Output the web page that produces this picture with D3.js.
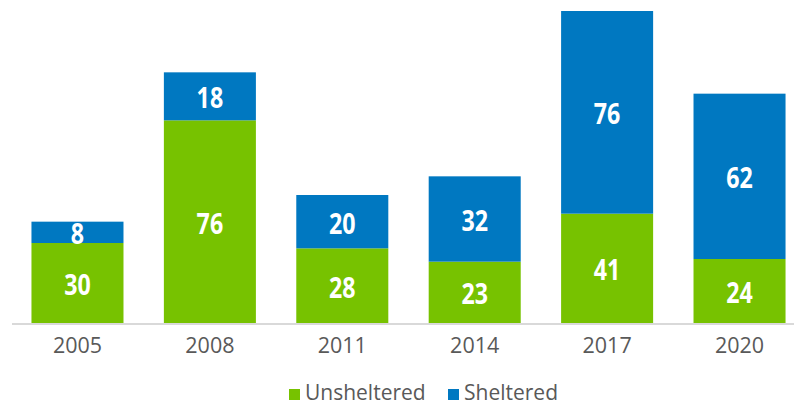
<!DOCTYPE html>
<html><head><meta charset="utf-8">
<script src="https://cdn.jsdelivr.net/npm/d3@7"></script>
<style>body{margin:0;background:#fff}svg{display:block}</style>
</head><body><svg id="c" width="794" height="405"></svg>
<script>
const years = ["2005","2008","2011","2014","2017","2020"];
const unsheltered = [30,76,28,23,41,24];
const sheltered = [8,18,20,32,76,62];
const seriesNames = ["Unsheltered","Sheltered"];
const colors = ["#77c200","#0078c1"];

const svg = d3.select("#c");
const x = d3.scaleBand().domain(years).range([12,805]).paddingInner(0.305).paddingOuter(0.147);
const y = d3.scaleLinear().domain([0,120]).range([323,3]);

const rows = years.map((yr,i)=>({year:yr, Unsheltered:unsheltered[i], Sheltered:sheltered[i]}));
const stack = d3.stack().keys(seriesNames)(rows);

stack.forEach((layer,li)=>{
  const g = svg.append("g");
  g.selectAll("rect").data(layer).join("rect")
    .attr("x",d=>x(d.data.year)).attr("width",x.bandwidth())
    .attr("y",d=>y(d[1])).attr("height",d=>y(d[0])-y(d[1]))
    .attr("fill",colors[li]);
  g.selectAll("text").data(layer).join("text")
    .attr("transform",d=>`translate(${x(d.data.year)+x.bandwidth()/2},${(y(d[0])+y(d[1]))/2+1}) scale(0.8,1)`)
    .attr("text-anchor","middle").attr("dominant-baseline","central")
    .style("font-family","'Open Sans',sans-serif").style("font-weight","bold").style("font-size","29px")
    .attr("fill","#fff")
    .text(d=>d[1]-d[0]);
});

// axis
const axis = svg.append("g").attr("transform","translate(0,324)")
  .call(d3.axisBottom(x).tickSize(0).tickPadding(14));
axis.select(".domain").attr("d","M12,0H794").attr("stroke","#d9d9d9").attr("stroke-width",2);
axis.selectAll("text").style("font-family","'Open Sans',sans-serif").style("font-size","21.5px").attr("fill","#595959");

// legend
const leg = [{x:289},{x:448}];
seriesNames.forEach((n,i)=>{
  svg.append("rect").attr("x",leg[i].x).attr("y",389).attr("width",11).attr("height",11).attr("fill",colors[i]);
  svg.append("text").attr("x",leg[i].x+16).attr("y",399.5)
    .style("font-family","'Open Sans',sans-serif").style("font-size","21px").attr("fill","#595959").text(n);
});
</script></body></html>
